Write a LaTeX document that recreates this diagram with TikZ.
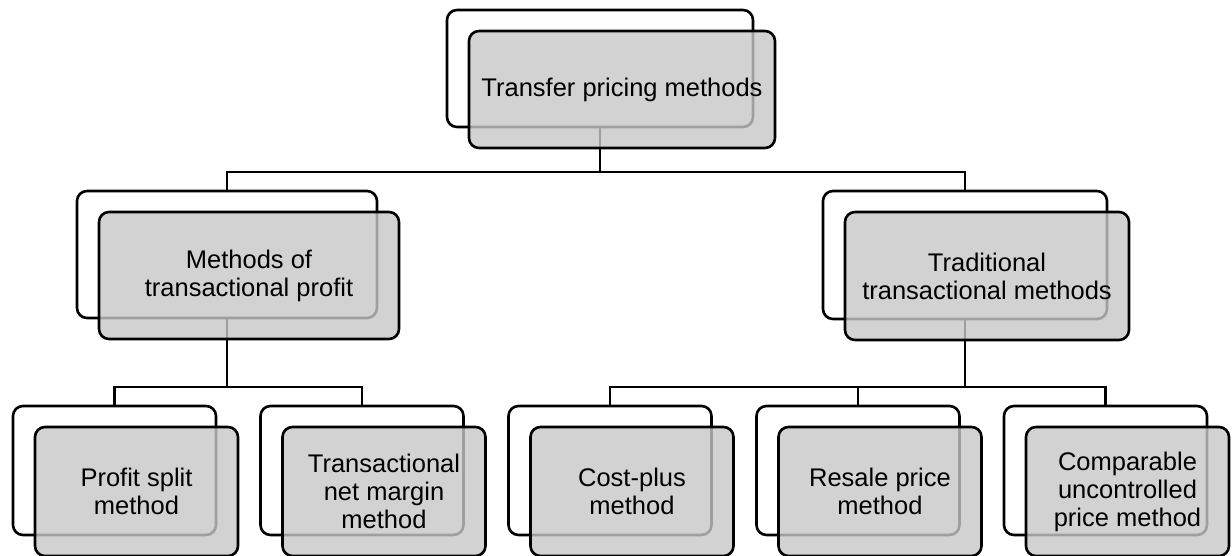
\documentclass[tikz,border=0pt]{standalone}
\usepackage{fontspec}
\setmainfont{Liberation Sans}
\definecolor{boxgrey}{RGB}{199,199,199}

\begin{document}
\begin{tikzpicture}[x=1pt,y=-1pt,
        backbox/.style={draw, line width=2.6pt, rounded corners=10pt, fill=white, inner sep=0pt},
        frontbox/.style={draw, line width=2.6pt, rounded corners=10pt, fill=boxgrey, fill opacity=0.8,
            text opacity=1, align=center, inner sep=0pt, xshift=22pt, yshift=-21pt,
            font=\fontsize{25.5}{28}\selectfont},
        link/.style={line width=2.6pt}]
        \useasboundingbox (0,0) rectangle (1232,556);

        % back boxes
        \node[backbox, minimum width=306, minimum height=117] (tpmb) at (600,68.5) {};
        \node[backbox, minimum width=300, minimum height=127] (mtpb) at (227,254.5) {};
        \node[backbox, minimum width=284, minimum height=128] (ttmb) at (965,255) {};
        \node[backbox, minimum width=203, minimum height=129] (psmb) at (114.5,470.5) {};
        \node[backbox, minimum width=203, minimum height=129] (tnmb) at (362,470.5) {};
        \node[backbox, minimum width=203, minimum height=129] (cpmb) at (610,470.5) {};
        \node[backbox, minimum width=203, minimum height=129] (rpmb) at (858,470.5) {};
        \node[backbox, minimum width=203, minimum height=129] (cupb) at (1105.5,470.5) {};

        % connectors
        \coordinate (bar1) at (0,172);
        \coordinate (bar2) at (0,387);
        \draw[link] (tpmb.south) -- (tpmb.south |- bar1) -| (mtpb.north);
        \draw[link] (tpmb.south) -- (tpmb.south |- bar1) -| (ttmb.north);
        \draw[link] (mtpb.south) -- (mtpb.south |- bar2) -| (psmb.north);
        \draw[link] (mtpb.south) -- (mtpb.south |- bar2) -| (tnmb.north);
        \draw[link] (ttmb.south) -- (ttmb.south |- bar2) -| (cpmb.north);
        \draw[link] (ttmb.south) -- (ttmb.south |- bar2) -| (rpmb.north);
        \draw[link] (ttmb.south) -- (ttmb.south |- bar2) -| (cupb.north);

        % front boxes
        \node[frontbox, minimum width=306, minimum height=117] (tpm) at (tpmb) {Transfer pricing methods};
        \node[frontbox, minimum width=300, minimum height=127] (mtp) at (mtpb) {Methods of\\transactional profit};
        \node[frontbox, minimum width=284, minimum height=128] (ttm) at (ttmb) {Traditional\\transactional methods};
        \node[frontbox, minimum width=203, minimum height=129] (psm) at (psmb) {Profit split\\method};
        \node[frontbox, minimum width=203, minimum height=129] (tnm) at (tnmb) {Transactional\\net margin\\method};
        \node[frontbox, minimum width=203, minimum height=129] (cpm) at (cpmb) {Cost-plus\\method};
        \node[frontbox, minimum width=203, minimum height=129] (rpm) at (rpmb) {Resale price\\method};
        \node[frontbox, minimum width=203, minimum height=129] (cup) at (cupb) {Comparable\\uncontrolled\\price method};
    \end{tikzpicture}
\end{document}
